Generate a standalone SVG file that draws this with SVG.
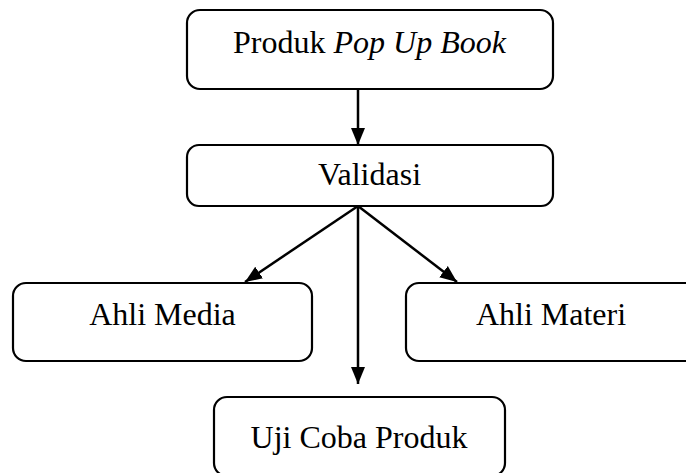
<svg xmlns="http://www.w3.org/2000/svg" width="686" height="473" viewBox="0 0 686 473">
<style>
.box{fill:#fff;stroke:#000;stroke-width:2.2}
.lbl{font-family:"Liberation Serif","Times New Roman",serif;font-size:32px;fill:#000;text-anchor:middle}
.edge{stroke:#000;stroke-width:2.5;fill:none;marker-end:url(#ah)}
</style>
<defs>
<marker id="ah" markerUnits="userSpaceOnUse" markerWidth="18" markerHeight="16" viewBox="0 0 18 16" refX="17" refY="8" orient="auto">
<path d="M0,1 L17,8 L0,15 Z" fill="#000"/>
</marker>
</defs>
<rect width="686" height="473" fill="#fff"/>
<g id="connectors">
<path class="edge" d="M358,89 L358,145"/>
<path class="edge" d="M358,206 L245,282"/>
<path class="edge" d="M358,206 L457,282"/>
<path class="edge" d="M358,206 L358,384"/>
</g>
<g id="produk">
<rect class="box" x="187" y="10" width="366" height="79" rx="13"/>
<text class="lbl" x="369.5" y="53">Produk <tspan font-style="italic">Pop Up Book</tspan></text>
</g>
<g id="validasi">
<rect class="box" x="187" y="145" width="366" height="61" rx="12"/>
<text class="lbl" x="369.5" y="185">Validasi</text>
</g>
<g id="ahli-media">
<rect class="box" x="13" y="283" width="299" height="78" rx="13"/>
<text class="lbl" x="162.5" y="325">Ahli Media</text>
</g>
<g id="ahli-materi">
<rect class="box" x="406" y="283" width="300" height="78" rx="13"/>
<text class="lbl" x="551" y="325">Ahli Materi</text>
</g>
<g id="uji-coba">
<rect class="box" x="214" y="397" width="291" height="79" rx="13"/>
<text class="lbl" x="359" y="448">Uji Coba Produk</text>
</g>
</svg>
